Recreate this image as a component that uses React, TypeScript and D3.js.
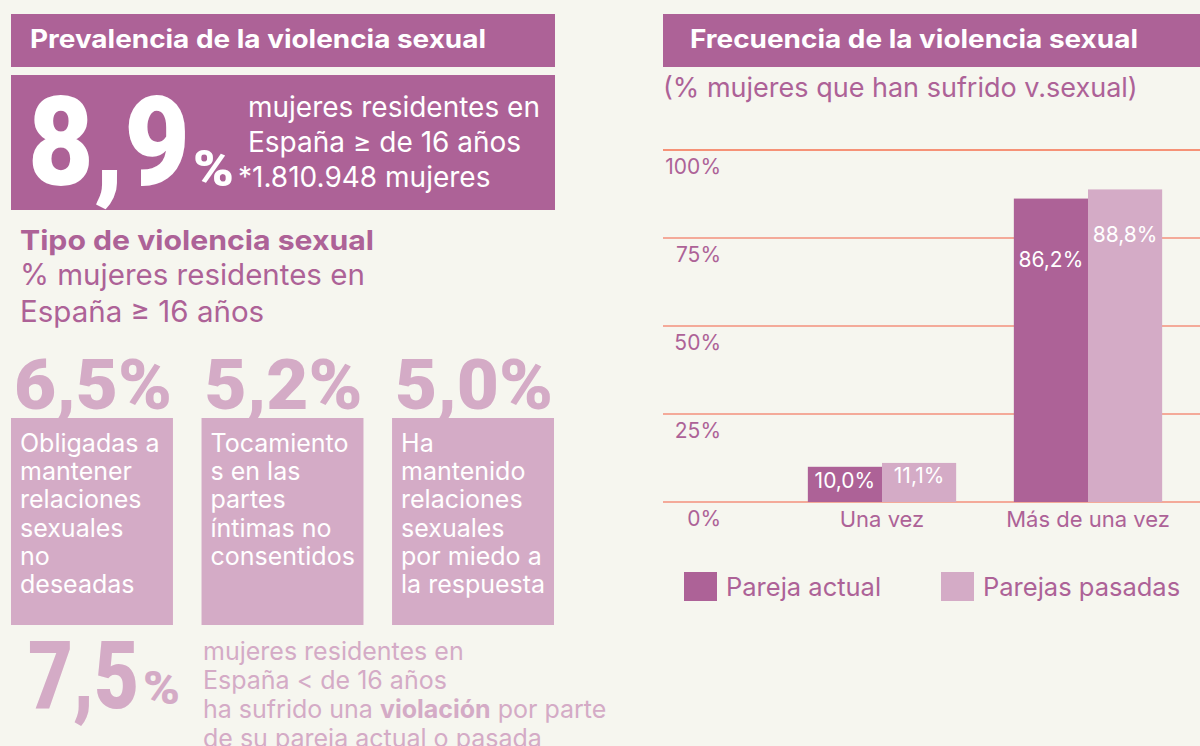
import React from "react";
import * as d3 from "d3";

// ---- data ----
const prevalenceValue = 8.9;
const prevalenceLines = ["mujeres residentes en", "España ≥ de 16 años", "*1.810.948 mujeres"];
const typeValues = [6.5, 5.2, 5.0];
const typeLabels = [
  ["Obligadas a", "mantener", "relaciones", "sexuales", "no", "deseadas"],
  ["Tocamiento", "s en las", "partes", "íntimas no", "consentidos"],
  ["Ha", "mantenido", "relaciones", "sexuales", "por miedo a", "la respuesta"],
];
const under16Value = 7.5;
const categories = ["Una vez", "Más de una vez"];
const seriesNames = ["Pareja actual", "Parejas pasadas"];
const parejaActual = [10.0, 86.2];
const parejasPasadas = [11.1, 88.8];
const yTicks = [0, 25, 50, 75, 100];

// ---- style ----
const BG = "#f6f6ef";
const DARK = "#ad6297";
const LIGHT = "#d4abc6";
const GRID = "#f3917c";
const FONT = "Inter, 'Noto Sans', sans-serif";
const BIG = "Roboto, Inter, sans-serif";
const labelDy = [
  [21, 68],
  [20, 53],
];

const fmt = (v: number) => d3.format(".1f")(v).replace(".", ",");

export default function App() {
  const y = d3.scaleLinear().domain([0, 100]).range([502, 150]);
  const x0 = d3.scaleBand<string>().domain(categories).range([779, 1191]).paddingInner(0.28).paddingOuter(0.14);
  const x1 = d3.scaleBand<string>().domain(seriesNames).range([0, x0.bandwidth()]);
  const color = d3.scaleOrdinal<string, string>().domain(seriesNames).range([DARK, LIGHT]);
  const seriesData = [parejaActual, parejasPasadas];

  const boxX = d3.scaleBand<number>().domain([0, 1, 2]).range([11, 554]).paddingInner(0.15);
  const fit = { lengthAdjust: "spacingAndGlyphs" as const };

  return (
    <svg width={1200} height={746} style={{ position: "absolute", left: 0, top: 0 }} fontFamily={FONT}>
      <rect width={1200} height={746} fill={BG} />

      {/* Left header */}
      <rect x={11} y={14} width={544} height={53} fill={DARK} />
      <text x={30} y={48} fill="#fff" fontWeight={700} fontSize={25.5} textLength={456} {...fit}>Prevalencia de la violencia sexual</text>

      {/* 8,9 box */}
      <rect x={11} y={75} width={544} height={135} fill={DARK} />
      <text x={28} y={185} fill="#fff" fontFamily={BIG} fontWeight={900} fontSize={124} textLength={162} {...fit}>{fmt(prevalenceValue)}</text>
      <text x={193} y={186} fill="#fff" fontFamily={BIG} fontWeight={900} fontSize={50} textLength={41} {...fit}>%</text>
      {prevalenceLines.map((l, i) => (
        <text key={i} x={i === 2 ? 238 : 248} y={117 + i * 35} fill="#fff" fontSize={28} fontWeight={400}>{l}</text>
      ))}

      {/* Tipo */}
      <text x={20} y={250} fill={DARK} fontWeight={700} fontSize={27.5} textLength={354} {...fit}>Tipo de violencia sexual</text>
      <text x={20} y={285} fill={DARK} fontSize={29.5}>% mujeres residentes en</text>
      <text x={20} y={322} fill={DARK} fontSize={29.5}>España ≥ 16 años</text>

      {typeValues.map((v, i) => {
        const bx = boxX(i)!;
        const bw = boxX.bandwidth();
        return (
          <g key={i}>
            <text x={bx + 3} y={409} fill={LIGHT} fontFamily={BIG} fontWeight={900} fontSize={70} textLength={158} {...fit}>{fmt(v)}%</text>
            <rect x={bx} y={418} width={bw} height={207} fill={LIGHT} />
            {typeLabels[i].map((l, j) => (
              <text key={j} x={bx + 9} y={452 + j * 28.2} fill="#fff" fontSize={25}>{l}</text>
            ))}
          </g>
        );
      })}

      {/* 7,5 */}
      <text x={28} y={708} fill={LIGHT} fontFamily={BIG} fontWeight={900} fontSize={95} textLength={111} {...fit}>{fmt(under16Value)}</text>
      <text x={143} y={704} fill={LIGHT} fontFamily={BIG} fontWeight={900} fontSize={46} textLength={37} {...fit}>%</text>
      <text x={203} y={660} fill={LIGHT} fontSize={25}>mujeres residentes en</text>
      <text x={203} y={689} fill={LIGHT} fontSize={25}>España &lt; de 16 años</text>
      <text x={203} y={718} fill={LIGHT} fontSize={25}>ha sufrido una <tspan fontWeight={700}>violación</tspan> por parte</text>
      <text x={203} y={747} fill={LIGHT} fontSize={25}>de su pareja actual o pasada</text>

      {/* Right header */}
      <rect x={663} y={14} width={537} height={53} fill={DARK} />
      <text x={690} y={48} fill="#fff" fontWeight={700} fontSize={25.5} textLength={448} {...fit}>Frecuencia de la violencia sexual</text>
      <text x={663} y={97} fill={DARK} fontSize={27}>(% mujeres que han sufrido v.sexual)</text>

      {/* grid */}
      {yTicks.map((t) => (
        <g key={t}>
          <line x1={663} x2={1200} y1={y(t)} y2={y(t)} stroke={t === 100 ? "#f6704f" : GRID} strokeWidth={1.3} />
          <text x={721} y={y(t) + 24} textAnchor="end" fill={DARK} fontSize={21}>{t}%</text>
        </g>
      ))}

      {/* bars */}
      {categories.map((c, ci) => (
        <g key={c} transform={`translate(${x0(c)},0)`}>
          {seriesNames.map((s, si) => {
            const v = seriesData[si][ci];
            return (
              <g key={s}>
                <rect x={x1(s)} y={y(v)} width={x1.bandwidth()} height={y(0) - y(v)} fill={color(s)} />
                <text x={x1(s)! + x1.bandwidth() / 2} y={y(v) + labelDy[si][ci]} textAnchor="middle" fill="#fff" fontSize={21}>{fmt(v)}%</text>
              </g>
            );
          })}
          <text x={x0.bandwidth() / 2} y={527} textAnchor="middle" fill={DARK} fontSize={22}>{c}</text>
        </g>
      ))}

      {/* legend */}
      {seriesNames.map((s, i) => {
        const lx = [684, 941][i];
        return (
          <g key={s}>
            <rect x={lx} y={572} width={33} height={29} fill={color(s)} />
            <text x={lx + 42} y={596} fill={DARK} fontSize={25.5}>{s}</text>
          </g>
        );
      })}
    </svg>
  );
}
